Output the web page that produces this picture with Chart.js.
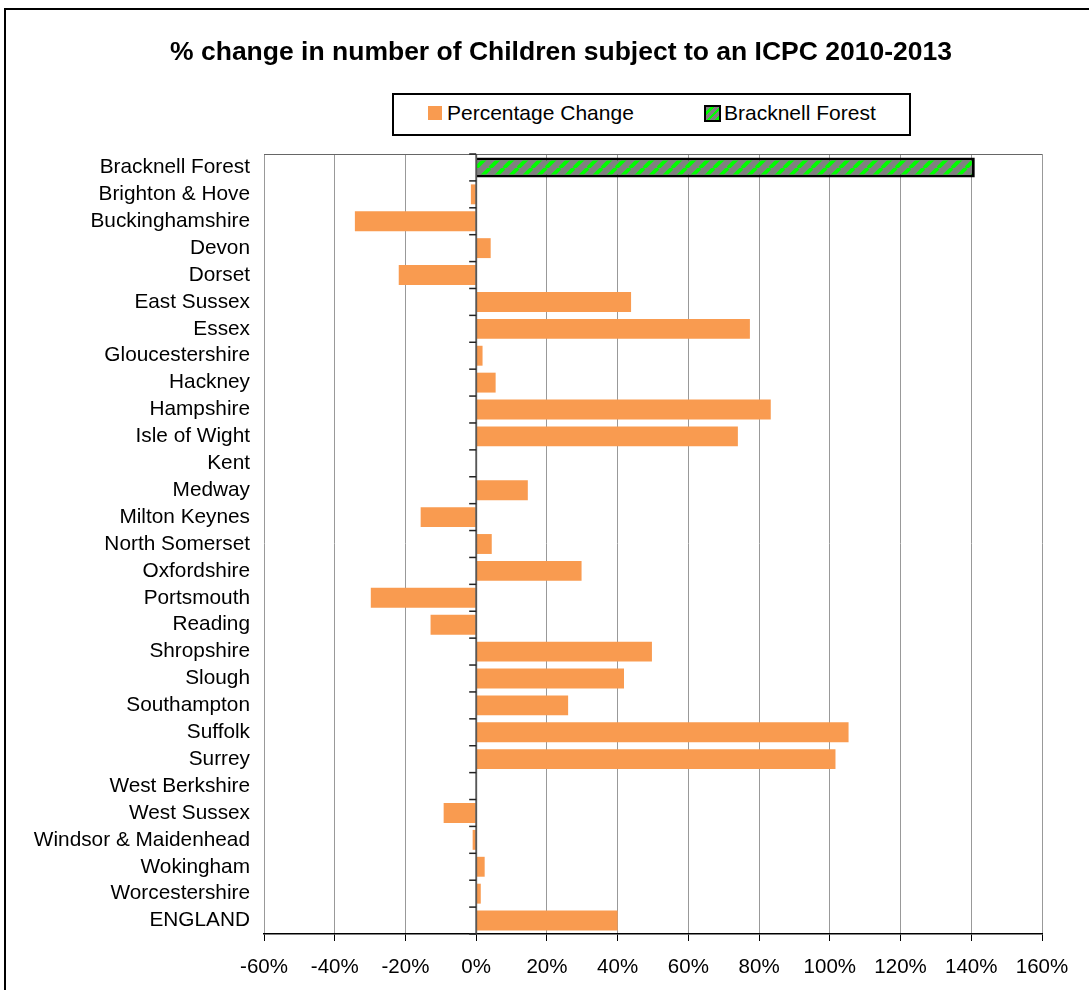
<!DOCTYPE html>
<html>
<head>
<meta charset="utf-8">
<script src="https://cdn.jsdelivr.net/npm/chart.js@4.4.1/dist/chart.umd.min.js"></script>
<style>
  html, body { margin: 0; padding: 0; background: #fff; overflow: hidden; width: 1089px; height: 990px; }
  #frame { position: absolute; left: 4px; top: 8px; width: 1300px; height: 1300px;
           border-top: 2px solid #000; border-left: 2px solid #000; }
  #wrap { position: absolute; left: 0; top: 0; width: 1122px; height: 990px; }
  #title { position: absolute; left: 0; top: 36px; width: 1122px; text-align: center; line-height: 30px;
           font-family: "Liberation Sans", Arial, sans-serif; font-weight: bold; font-size: 26.5px; color: #000;
           white-space: nowrap; }
  #legend { position: absolute; left: 392px; top: 93px; width: 519px; height: 43px; box-sizing: border-box;
            border: 2px solid #000; background: #fff; font-family: "Liberation Sans", Arial, sans-serif;
            font-size: 21px; color: #000; }
  .lbox { position: absolute; box-sizing: border-box; }
  .ltxt { position: absolute; line-height: 24px; white-space: nowrap; }
</style>
</head>
<body>
<div id="frame"></div>
<div id="wrap"><canvas id="c" width="1122" height="990"></canvas></div>
<div id="title"></div>
<div id="legend"></div>
<script>
const chartTitle = '% change in number of Children subject to an ICPC 2010-2013';
const categories = [
  'Bracknell Forest', 'Brighton & Hove', 'Buckinghamshire', 'Devon', 'Dorset',
  'East Sussex', 'Essex', 'Gloucestershire', 'Hackney', 'Hampshire',
  'Isle of Wight', 'Kent', 'Medway', 'Milton Keynes', 'North Somerset',
  'Oxfordshire', 'Portsmouth', 'Reading', 'Shropshire', 'Slough',
  'Southampton', 'Suffolk', 'Surrey', 'West Berkshire', 'West Sussex',
  'Windsor & Maidenhead', 'Wokingham', 'Worcestershire', 'ENGLAND'
];
const pctChange = [
  141.0, -1.5, -34.3, 4.1, -21.9,
  43.8, 77.4, 1.8, 5.5, 83.3,
  74.0, 0, 14.6, -15.7, 4.4,
  29.8, -29.8, -12.9, 49.7, 41.8,
  26.0, 105.3, 101.6, 0, -9.2,
  -1.0, 2.4, 1.3, 40.0
];
const highlighted = 'Bracknell Forest';
const seriesLabels = ['Percentage Change', 'Bracknell Forest'];
const xTickValues = [-60, -40, -20, 0, 20, 40, 60, 80, 100, 120, 140, 160];

const ORANGE = '#F99B50';
const FONT = '"Liberation Sans", Arial, sans-serif';

document.getElementById('title').textContent = chartTitle;

function makeStripePattern() {
  const p = 14;
  const c = document.createElement('canvas');
  c.width = p; c.height = p;
  const g = c.getContext('2d');
  g.fillStyle = '#808080';
  g.fillRect(0, 0, p, p);
  g.strokeStyle = '#00FF00';
  g.lineWidth = 3.8;
  for (const off of [-p, 0, p]) {
    g.beginPath();
    g.moveTo(off, p);
    g.lineTo(off + p, 0);
    g.stroke();
  }
  return g.createPattern(c, 'repeat');
}
const stripe = makeStripePattern();

const normalData = pctChange.map((v, i) => categories[i] === highlighted ? null : v);
const highlightData = pctChange.map((v, i) => categories[i] === highlighted ? v : null);

const zeroAxisPlugin = {
  id: 'zeroAxis',
  beforeDatasetsDraw(chart) {
    const { ctx, chartArea } = chart;
    ctx.save();
    ctx.strokeStyle = '#666';
    ctx.lineWidth = 1;
    ctx.beginPath();
    ctx.moveTo(chartArea.left, chartArea.top + 0.5);
    ctx.lineTo(chartArea.right, chartArea.top + 0.5);
    ctx.stroke();
    ctx.restore();
  },
  afterDatasetsDraw(chart) {
    const { ctx, chartArea, scales } = chart;
    const x0 = scales.x.getPixelForValue(0);
    const n = categories.length;
    const h = (chartArea.bottom - chartArea.top) / n;
    ctx.save();
    ctx.strokeStyle = 'rgba(70,70,70,0.8)';
    ctx.lineWidth = 2;
    ctx.beginPath();
    ctx.moveTo(x0, chartArea.top);
    ctx.lineTo(x0, chartArea.bottom);
    ctx.stroke();
    ctx.strokeStyle = '#222';
    ctx.lineWidth = 1.5;
    for (let i = 0; i <= n; i++) {
      const y = chartArea.top + i * h;
      ctx.beginPath();
      ctx.moveTo(x0 - 7, y);
      ctx.lineTo(x0, y);
      ctx.stroke();
    }
    ctx.restore();
  }
};

new Chart(document.getElementById('c'), {
  type: 'bar',
  data: {
    labels: categories,
    datasets: [
      { label: seriesLabels[0], data: normalData, backgroundColor: ORANGE, borderWidth: 0, grouped: false },
      { label: seriesLabels[1], data: highlightData, backgroundColor: stripe, borderColor: '#000', borderWidth: 3, grouped: false }
    ]
  },
  options: {
    indexAxis: 'y',
    responsive: false,
    animation: false,
    devicePixelRatio: 1,
    barPercentage: 0.74,
    categoryPercentage: 1.0,
    layout: { padding: { top: 154, right: 80, bottom: 0, left: 0 } },
    plugins: {
      legend: { display: false },
      tooltip: { enabled: false },
      title: { display: false }
    },
    scales: {
      x: {
        min: -60, max: 160,
        afterBuildTicks(scale) { scale.ticks = xTickValues.map(v => ({ value: v })); },
        afterFit(scale) { scale.height = 56; },
        ticks: {
          color: '#000',
          font: { family: FONT, size: 20.5 },
          padding: 14,
          maxRotation: 0,
          callback: (v) => v + '%'
        },
        grid: { color: '#999', lineWidth: 1, tickColor: '#000', tickLength: 7, drawTicks: true },
        border: { color: '#000', width: 1.5 }
      },
      y: {
        position: 'left',
        afterFit(scale) { scale.width = 264; },
        grid: { display: false, drawTicks: false },
        border: { display: false },
        ticks: { color: '#000', font: { family: FONT, size: 20.8 }, padding: 14, autoSkip: false }
      }
    }
  },
  plugins: [zeroAxisPlugin]
});

// HTML legend (positions in page px, relative to legend box)
const legend = document.getElementById('legend');
const L = 392, T = 93;
function addBox(x, y, w, h, style) {
  const d = document.createElement('div');
  d.className = 'lbox';
  d.style.left = (x - L - 2) + 'px'; d.style.top = (y - T - 2) + 'px';
  d.style.width = w + 'px'; d.style.height = h + 'px';
  Object.assign(d.style, style);
  legend.appendChild(d);
}
function addText(x, yc, text) {
  const s = document.createElement('span');
  s.className = 'ltxt';
  s.textContent = text;
  s.style.left = (x - L - 2) + 'px'; s.style.top = (yc - 12 - T - 2) + 'px';
  legend.appendChild(s);
}
addBox(428, 106, 14, 14, { background: ORANGE });
addText(447, 113, seriesLabels[0]);
addBox(704, 104.5, 17, 17, { border: '2px solid #000',
  background: 'repeating-linear-gradient(135deg, #808080 0px, #808080 3.5px, #00FF00 3.5px, #00FF00 6px)' });
addText(724, 113, seriesLabels[1]);
</script>
</body>
</html>
